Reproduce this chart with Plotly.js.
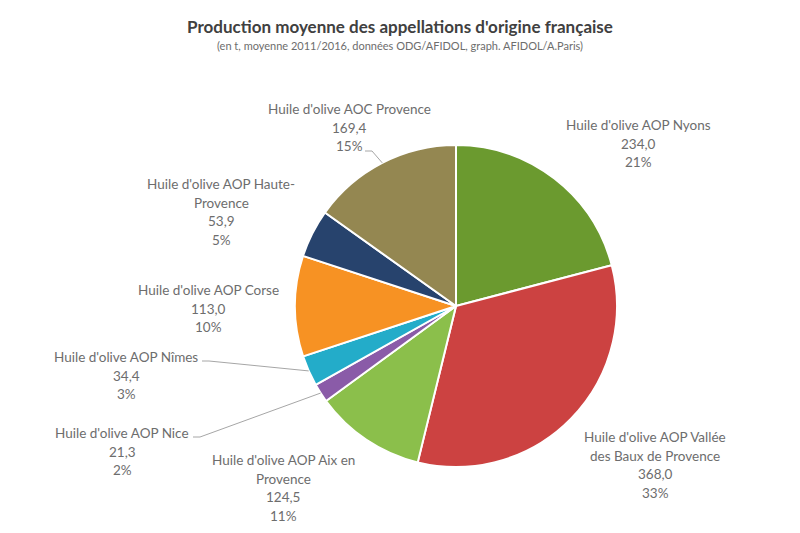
<!DOCTYPE html>
<html>
<head>
<meta charset="utf-8">
<script src="https://cdn.plot.ly/plotly-3.0.1.min.js"></script>
<style>html,body{margin:0;padding:0;background:#fff;}#chart{width:800px;height:533px;}</style>
</head>
<body>
<div id="chart"></div>
<script>
// ---- data ----
const categories = [
  "Huile d'olive AOP Nyons",
  "Huile d'olive AOP Vallée des Baux de Provence",
  "Huile d'olive AOP Aix en Provence",
  "Huile d'olive AOP Nice",
  "Huile d'olive AOP Nîmes",
  "Huile d'olive AOP Corse",
  "Huile d'olive AOP Haute-Provence",
  "Huile d'olive AOC Provence"
];
const labelLines = [
  ["Huile d'olive AOP Nyons"],
  ["Huile d'olive AOP Vallée", "des Baux de Provence"],
  ["Huile d'olive AOP Aix en", "Provence"],
  ["Huile d'olive AOP Nice"],
  ["Huile d'olive AOP Nîmes"],
  ["Huile d'olive AOP Corse"],
  ["Huile d'olive AOP Haute-", "Provence"],
  ["Huile d'olive AOC Provence"]
];
const values = [234.0, 368.0, 124.5, 21.3, 34.4, 113.0, 53.9, 169.4];
const colors = ["#6b9a2f", "#cc4241", "#8bbf4b", "#8a5ba8", "#23acc9", "#f79223", "#27436d", "#948751"];

// ---- layout helpers (pixel geometry) ----
const W = 800, H = 533;
const cx = 456, cy = 306, R = 161;
const px = x => x / W;
const py = y => 1 - y / H;
// label block centres (x) and first-line y, in pixels
const labelPos = [
  [638, 125], [655, 437], [283, 460], [122, 433], [126, 357], [208, 290], [221, 184], [349, 109]
];
const lineStep = 18.7;
// leader lines: [slice index, text-end x, text-end y]
const leaders = [[7, 365, 151], [4, 202, 361], [3, 193, 437]];

const total = values.reduce((a, b) => a + b, 0);
const fmt = v => v.toFixed(1).replace('.', ',');

const annotations = [];
const labelFont = {family: 'Lato, "Open Sans", sans-serif', size: 13.5, color: '#6d6d6d'};
values.forEach((v, i) => {
  const lines = labelLines[i].concat([fmt(v), Math.round(v / total * 100) + '%']);
  lines.forEach((t, k) => {
    annotations.push({
      xref: 'paper', yref: 'paper', x: px(labelPos[i][0]), y: py(labelPos[i][1] + k * lineStep),
      xanchor: 'center', yanchor: 'middle', text: t, showarrow: false, font: labelFont
    });
  });
});
annotations.push({
  xref: 'paper', yref: 'paper', x: 0.5, y: py(46), xanchor: 'center', yanchor: 'middle', showarrow: false,
  text: '(en t, moyenne 2011/2016, données ODG/AFIDOL, graph. AFIDOL/A.Paris)',
  font: {family: 'Lato, "Open Sans", sans-serif', size: 11, color: '#6d6d6d'}
});

// cumulative mid angles for leader line endpoints
const shapes = [];
let cum = 0;
const mids = values.map(v => { const m = (cum + v / 2) / total * 2 * Math.PI; cum += v; return m; });
leaders.forEach(([i, tx, ty]) => {
  const ex = cx + R * Math.sin(mids[i]), ey = cy - R * Math.cos(mids[i]);
  const kx = tx + 7;
  const line = {type: 'line', xref: 'paper', yref: 'paper', line: {color: '#a6a6a6', width: 1}};
  shapes.push(Object.assign({}, line, {x0: px(tx), y0: py(ty), x1: px(kx), y1: py(ty)}));
  shapes.push(Object.assign({}, line, {x0: px(kx), y0: py(ty), x1: px(ex), y1: py(ey)}));
});

const trace = {
  type: 'pie',
  labels: categories,
  values: values,
  sort: false,
  direction: 'clockwise',
  rotation: 0,
  textinfo: 'none',
  hoverinfo: 'label+value+percent',
  marker: {colors: colors, line: {color: '#ffffff', width: 2}},
  domain: {x: [px(cx - R), px(cx + R)], y: [py(cy + R), py(cy - R)]},
  showlegend: false
};

const layout = {
  width: W, height: H,
  margin: {l: 0, r: 0, t: 0, b: 0},
  paper_bgcolor: '#ffffff',
  showlegend: false,
  title: {
    text: "Production moyenne des appellations d'origine française",
    x: 0.5, xanchor: 'center', xref: 'paper',
    y: py(27), yanchor: 'middle', yref: 'paper',
    font: {family: 'Lato, "Open Sans", sans-serif', size: 17, color: '#404040', weight: 'bold'}
  },
  annotations: annotations,
  shapes: shapes
};

Plotly.newPlot('chart', [trace], layout, {displayModeBar: false, staticPlot: true});
</script>
</body>
</html>
